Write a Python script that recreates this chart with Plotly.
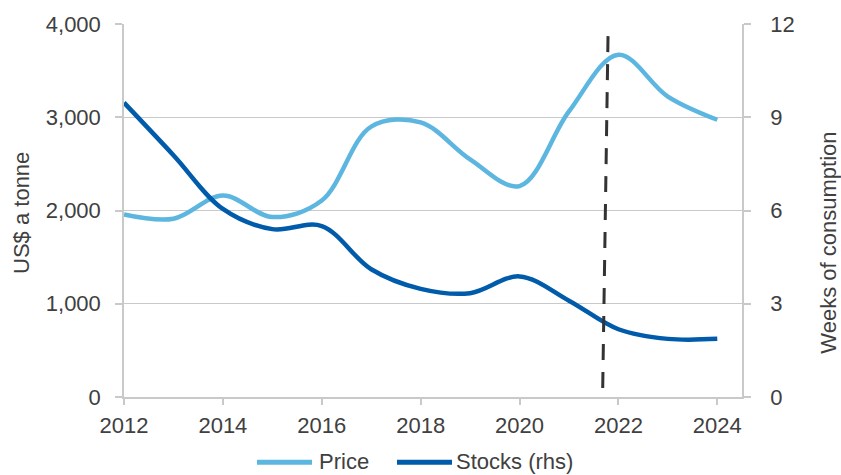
import plotly.graph_objects as go

# Annual series
years = list(range(2012, 2025))
price = [1958, 1911, 2160, 1930, 2107, 2900, 2945, 2549, 2262, 3062, 3670, 3222, 2973]  # US$ a tonne
stocks = [9.47, 7.78, 6.05, 5.40, 5.50, 4.11, 3.48, 3.34, 3.88, 3.10, 2.18, 1.87, 1.87]  # weeks of consumption

series_names = ["Price", "Stocks (rhs)"]
price_ticks = [0, 1000, 2000, 3000, 4000]
stock_ticks = [0, 3, 6, 9, 12]
year_ticks = [2012, 2014, 2016, 2018, 2020, 2022, 2024]

# forecast marker (slightly slanted dashed line), drawn from top to bottom
marker_x = [2021.79, 2021.68]
marker_y = [3870, 0]

W, H = 841, 475
ML, MR, MT, MB = 124, 99, 20, 78
PW, PH = W - ML - MR, H - MT - MB

LIGHT = "#5cb6e0"
DARK = "#005baa"
GRID = "#c9c9c9"
TEXT = "#404040"
FONT = "Liberation Sans, Arial, sans-serif"


def px(x):
    return (x - ML) / PW


def py(y):
    return (H - MB - y) / PH


fig = go.Figure()
fig.add_trace(go.Scatter(
    x=years, y=price, name=series_names[0], mode="lines",
    line=dict(color=LIGHT, width=4.5, shape="spline", smoothing=1.0),
    yaxis="y", showlegend=False,
))
fig.add_trace(go.Scatter(
    x=years, y=stocks, name=series_names[1], mode="lines",
    line=dict(color=DARK, width=4.5, shape="spline", smoothing=1.0),
    yaxis="y2", showlegend=False,
))

shapes = [
    dict(type="line", xref="x", yref="y", x0=marker_x[0], y0=marker_y[0],
         x1=marker_x[1], y1=marker_y[1], layer="above",
         line=dict(color="#333333", width=3, dash="16px,12px")),
]

# legend drawn by hand
legend_items = [(257, 312, 317, LIGHT, series_names[0]),
                (397, 452, 454, DARK, series_names[1])]
annotations = []
for x0, x1, tx, col, name in legend_items:
    shapes.append(dict(type="line", xref="paper", yref="paper",
                       x0=px(x0), x1=px(x1), y0=py(463), y1=py(463),
                       line=dict(color=col, width=5)))
    annotations.append(dict(text=name, xref="paper", yref="paper",
                            x=px(tx), y=py(462), xanchor="left", yanchor="middle",
                            showarrow=False, font=dict(size=22, color=TEXT, family=FONT)))

annotations.append(dict(text="US$ a tonne", xref="paper", yref="paper",
                        x=px(22), y=py(211), textangle=-90,
                        xanchor="center", yanchor="middle", showarrow=False,
                        font=dict(size=22, color=TEXT, family=FONT)))
annotations.append(dict(text="Weeks of consumption", xref="paper", yref="paper",
                        x=px(829), y=py(241), textangle=-90,
                        xanchor="center", yanchor="middle", showarrow=False,
                        font=dict(size=22, color=TEXT, family=FONT)))

fig.update_layout(
    width=W, height=H,
    margin=dict(l=ML, r=MR, t=MT, b=MB, pad=0),
    paper_bgcolor="white", plot_bgcolor="white",
    font=dict(family=FONT, size=22, color=TEXT),
    showlegend=False,
    shapes=shapes,
    annotations=annotations,
    xaxis=dict(
        range=[2012, 2024.5], tickvals=year_ticks, ticktext=[str(v) for v in year_ticks],
        showgrid=False, zeroline=False,
        showline=True, linecolor=GRID, linewidth=1.5,
        ticks="outside", ticklen=6, tickwidth=1.5, tickcolor=GRID,
        tickfont=dict(size=22, color=TEXT, family=FONT),
        ticklabelstandoff=2,
    ),
    yaxis=dict(
        range=[0, 4000], tickvals=price_ticks, tickformat=",",
        showgrid=True, gridcolor=GRID, gridwidth=1.3, zeroline=False,
        showline=True, linecolor=GRID, linewidth=1.5,
        ticks="outside", ticklen=7, tickwidth=1.5, tickcolor=GRID,
        tickfont=dict(size=22, color=TEXT, family=FONT),
        ticklabelstandoff=10,
    ),
    yaxis2=dict(
        range=[0, 12], tickvals=stock_ticks, overlaying="y", side="right",
        showgrid=False, zeroline=False,
        showline=True, linecolor=GRID, linewidth=1.5,
        ticks="outside", ticklen=7, tickwidth=1.5, tickcolor=GRID,
        tickfont=dict(size=22, color=TEXT, family=FONT),
        ticklabelstandoff=15,
    ),
)

fig.write_html("out.html")
